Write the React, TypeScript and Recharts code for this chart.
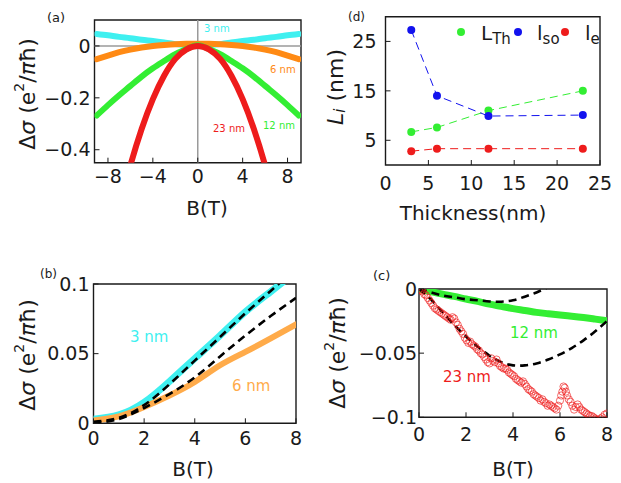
import {
  ComposedChart,
  Line,
  ReferenceArea,
  ReferenceLine,
  Scatter,
  XAxis,
  YAxis,
} from 'recharts'

const W = 621
const H = 483
const INK = '#1a1a1a'
const CYAN = '#3ff0f0'
const ORANGE = '#ff8a14'
const ORANGE_LIGHT = '#ffab4a'
const GREEN = '#33ee33'
const RED = '#ee1c1c'
const BLUE = '#1212ee'

// ---- (a) magnetoconductance, all thicknesses, B from -9 to 9 T
const bA = [-9, -8, -7, -6, -5, -4, -3, -2, -1, 0, 1, 2, 3, 4, 5, 6, 7, 8, 9]
const a3nm = [0.046, 0.041, 0.035, 0.03, 0.024, 0.019, 0.013, 0.007, 0.004, 0.003, 0.004, 0.007, 0.013, 0.019, 0.024, 0.03, 0.035, 0.041, 0.046]
const a6nm = [-0.051, -0.037, -0.024, -0.014, -0.006, 0, 0.004, 0.007, 0.008, 0.008, 0.008, 0.007, 0.004, 0, -0.006, -0.014, -0.024, -0.037, -0.051]
const a12nm = [-0.268, -0.228, -0.19, -0.154, -0.118, -0.086, -0.058, -0.032, -0.012, 0.003, -0.012, -0.032, -0.058, -0.086, -0.118, -0.154, -0.19, -0.228, -0.268]
const bA23 = [-7, -6, -5, -4, -3, -2, -1, 0, 1, 2, 3, 4, 5, 6, 7]
const a23nm = [-0.62, -0.46, -0.32, -0.205, -0.115, -0.05, -0.013, 0, -0.013, -0.05, -0.115, -0.205, -0.32, -0.46, -0.62]

// ---- (b) 3 nm and 6 nm with fits
const bB = [0, 1, 2, 3, 4, 5, 6, 7, 8]
const b3nm = [0.003, 0.006, 0.015, 0.03, 0.0465, 0.063, 0.08, 0.0945, 0.109]
const b3fit = [0.001, 0.004, 0.013, 0.028, 0.045, 0.062, 0.079, 0.095, 0.111]
const b6nm = [0.002, 0.005, 0.0117, 0.02, 0.0297, 0.0417, 0.0513, 0.061, 0.071]
const b6fit = [0, 0.003, 0.011, 0.021, 0.033, 0.048, 0.063, 0.077, 0.09]

// ---- (c) 12 nm and 23 nm with fits
const bC = [0, 0.5, 1, 1.5, 2, 2.5, 3, 3.5, 4, 4.5, 5, 5.5, 6, 6.5, 7, 7.5, 8]
const c12nm = [0, -0.002, -0.004, -0.0058, -0.0078, -0.0097, -0.0118, -0.0135, -0.0153, -0.0167, -0.0182, -0.0193, -0.0203, -0.0212, -0.0222, -0.0235, -0.0248]
const bC12fit = [0, 0.5, 1, 1.5, 2, 2.5, 3, 3.5, 4, 4.5, 5, 5.5, 6]
const c12fit = [0, -0.0025, -0.005, -0.0065, -0.008, -0.0088, -0.0097, -0.0099, -0.0088, -0.006, -0.0027, 0.0015, 0.006]
const c23fit = [0, -0.008, -0.018, -0.028, -0.037, -0.045, -0.052, -0.057, -0.0595, -0.0595, -0.058, -0.055, -0.051, -0.046, -0.04, -0.033, -0.025]
const bC23 = [0, 0.15, 0.3, 0.45, 0.6, 0.75, 0.9, 1.05, 1.2, 1.35, 1.5, 1.65, 1.8, 1.95, 2.1, 2.25, 2.4, 2.55, 2.7, 2.85, 3, 3.15, 3.3, 3.45, 3.6, 3.75, 3.9, 4.05, 4.2, 4.35, 4.5, 4.65, 4.8, 4.95, 5.1, 5.25, 5.4, 5.55, 5.7, 5.85, 6, 6.1, 6.2, 6.3, 6.45, 6.6, 6.75, 6.9, 7.05, 7.2, 7.35, 7.5, 7.65, 7.8, 8]
const c23nm = [0, -0.002, -0.005, -0.009, -0.013, -0.016, -0.018, -0.02, -0.022, -0.024, -0.023, -0.028, -0.033, -0.038, -0.042, -0.043, -0.045, -0.048, -0.051, -0.055, -0.058, -0.056, -0.055, -0.06, -0.062, -0.063, -0.066, -0.068, -0.071, -0.073, -0.074, -0.078, -0.08, -0.083, -0.085, -0.086, -0.089, -0.09, -0.092, -0.094, -0.087, -0.08, -0.077, -0.083, -0.088, -0.094, -0.09, -0.094, -0.096, -0.098, -0.099, -0.101, -0.103, -0.1, -0.097]
const bC23b = [0.075, 0.225, 0.375, 0.525, 0.675, 0.825, 0.975, 1.125, 1.275, 1.425, 1.575, 1.725, 1.875, 2.025, 2.175, 2.325, 2.475, 2.625, 2.775, 2.925, 3.075, 3.225, 3.375, 3.525, 3.675, 3.825, 3.975, 4.125, 4.275, 4.425, 4.575, 4.725, 4.875, 5.025, 5.175, 5.325, 5.475, 5.625, 5.775, 5.925, 6.05, 6.15, 6.25, 6.375, 6.525, 6.675, 6.825, 6.975, 7.125, 7.275, 7.425, 7.575, 7.725, 7.9]
const c23nmB = [-0.001, -0.004, -0.007, -0.011, -0.015, -0.017, -0.019, -0.021, -0.023, -0.022, -0.026, -0.031, -0.035, -0.04, -0.041, -0.044, -0.047, -0.05, -0.053, -0.057, -0.054, -0.057, -0.058, -0.061, -0.062, -0.065, -0.067, -0.07, -0.072, -0.072, -0.076, -0.079, -0.082, -0.084, -0.087, -0.088, -0.091, -0.091, -0.093, -0.091, -0.083, -0.076, -0.08, -0.086, -0.091, -0.092, -0.092, -0.095, -0.097, -0.099, -0.1, -0.102, -0.101, -0.098]

// ---- (d) length scales vs thickness
const thickness = [3, 6, 12, 23]
const lTh = [6.7, 7.6, 11.0, 15.0]
const lSo = [27.3, 14.0, 9.9, 10.1]
const lE = [2.8, 3.3, 3.3, 3.3]

const rows = (xs: number[], ys: number[]) => xs.map((b, i) => ({ b, v: ys[i] }))
const fmt = (v: number) => (v < 0 ? `\u2212${-v}` : `${v}`)

const tickFont = { fill: INK, fontSize: 19 }

function xAxisProps(domain: number[], ticks: number[], margin: number) {
  return {
    type: 'number' as const,
    dataKey: 'b',
    domain,
    ticks,
    interval: 0,
    allowDataOverflow: true,
    tickFormatter: fmt,
    tick: tickFont,
    tickSize: -5,
    tickMargin: margin,
    axisLine: false,
    tickLine: { stroke: INK },
    height: 30,
  }
}

function yAxisProps(domain: number[], ticks: number[], margin: number) {
  return {
    type: 'number' as const,
    dataKey: 'v',
    domain,
    ticks,
    interval: 0,
    allowDataOverflow: true,
    tickFormatter: fmt,
    tick: tickFont,
    tickSize: -5,
    tickMargin: margin,
    axisLine: false,
    tickLine: { stroke: INK },
    width: 40,
  }
}

function SigmaTitle({ x, y }: { x: number; y: number }) {
  return (
    <text transform={`translate(${x},${y}) rotate(-90)`} textAnchor="middle" dominantBaseline="central" fontSize={22} fill={INK}>
      Δ<tspan fontStyle="italic">σ</tspan> (e<tspan dy={-8} fontSize={14}>2</tspan><tspan dy={8}>/</tspan><tspan fontStyle="italic">π</tspan>ħ)
    </text>
  )
}

function Tag({ x, y, children, size = 20, color = INK }: { x: number; y: number; children: any; size?: number; color?: string }) {
  return (
    <text x={x} y={y} fontSize={size} fill={color}>
      {children}
    </text>
  )
}

function Frame({ x, y }: { x: number[]; y: number[] }) {
  return <ReferenceArea x1={x[0]} x2={x[1]} y1={y[0]} y2={y[1]} fill="none" stroke={INK} strokeWidth={1.4} strokeOpacity={1} ifOverflow="visible" />
}

const thick = (color: string, w = 6) => ({
  type: 'natural' as const,
  dataKey: 'v',
  stroke: color,
  strokeWidth: w,
  strokeLinecap: 'round' as const,
  dot: false,
  isAnimationActive: false,
})

const fitLine = {
  type: 'natural' as const,
  dataKey: 'v',
  stroke: '#000',
  strokeWidth: 2.6,
  strokeDasharray: '8 5',
  dot: false,
  isAnimationActive: false,
}

function OpenCircle(props: any) {
  return <circle cx={props.cx} cy={props.cy} r={3.6} fill="none" stroke={RED} strokeOpacity={0.65} strokeWidth={1} />
}

function PanelA() {
  const xd = [-9.2, 9.2]
  const yd = [-0.45, 0.1]
  return (
    <ComposedChart width={W} height={H} margin={{ top: 20, left: 54.5, right: 320, bottom: 290.3 }}>
      <XAxis {...xAxisProps(xd, [-8, -4, 0, 4, 8], 12)} />
      <YAxis {...yAxisProps(yd, [-0.4, -0.2, 0], 9)} />
      <ReferenceLine x={0} stroke="#9a9a9a" strokeWidth={1.5} />
      <ReferenceLine y={0} stroke="#9a9a9a" strokeWidth={1.5} />
      <Line data={rows(bA, a3nm)} {...thick(CYAN)} />
      <Line data={rows(bA, a6nm)} {...thick(ORANGE)} />
      <Line data={rows(bA, a12nm)} {...thick(GREEN)} />
      <Line data={rows(bA23, a23nm)} {...thick(RED)} />
      <Frame x={xd} y={yd} />
      <Tag x={47} y={22} size={13}>(a)</Tag>
      <Tag x={204} y={32} size={10} color={CYAN}>3 nm</Tag>
      <Tag x={270} y={73} size={10} color={ORANGE}>6 nm</Tag>
      <Tag x={263} y={129} size={10} color={GREEN}>12 nm</Tag>
      <Tag x={213} y={132} size={10} color={RED}>23 nm</Tag>
      <text x={207} y={215} textAnchor="middle" fontSize={20} fill={INK}>B(T)</text>
      <SigmaTitle x={27} y={94} />
    </ComposedChart>
  )
}

function PanelB() {
  const xd = [0, 8]
  const yd = [0, 0.1]
  return (
    <ComposedChart width={W} height={H} margin={{ top: 284, left: 53.5, right: 325, bottom: 29.7 }}>
      <XAxis {...xAxisProps(xd, [0, 2, 4, 6, 8], 13.7)} />
      <YAxis {...yAxisProps(yd, [0, 0.05, 0.1], 9)} />
      <Line data={rows(bB, b3nm)} {...thick(CYAN, 7)} />
      <Line data={rows(bB, b6nm)} {...thick(ORANGE_LIGHT, 6)} />
      <Line data={rows(bB, b3fit)} {...fitLine} />
      <Line data={rows(bB, b6fit)} {...fitLine} />
      <Frame x={xd} y={yd} />
      <Tag x={40} y={278} size={12}>(b)</Tag>
      <Tag x={130} y={342} size={15} color={CYAN}>3 nm</Tag>
      <Tag x={232} y={391} size={15} color={ORANGE_LIGHT}>6 nm</Tag>
      <text x={193} y={476} textAnchor="middle" fontSize={20} fill={INK}>B(T)</text>
      <SigmaTitle x={27} y={355} />
    </ComposedChart>
  )
}

function PanelC() {
  const xd = [0, 8]
  const yd = [-0.1, 0]
  const red = [...rows(bC23, c23nm), ...rows(bC23b, c23nmB)]
  return (
    <ComposedChart width={W} height={H} margin={{ top: 289, left: 379, right: 14, bottom: 35.7 }}>
      <XAxis {...xAxisProps(xd, [0, 2, 4, 6, 8], 15.7)} />
      <YAxis {...yAxisProps(yd, [-0.1, -0.05, 0], 7)} />
      <Scatter data={red} dataKey="v" shape={OpenCircle} isAnimationActive={false} />
      <Line data={rows(bC, c12nm)} {...thick(GREEN, 7)} />
      <Line data={rows(bC12fit, c12fit)} {...fitLine} />
      <Line data={rows(bC, c23fit)} {...fitLine} />
      <Frame x={xd} y={yd} />
      <Tag x={373} y={280} size={13}>(c)</Tag>
      <Tag x={510} y={338} size={15} color={GREEN}>12 nm</Tag>
      <Tag x={443} y={382} size={15} color={RED}>23 nm</Tag>
      <text x={513} y={476} textAnchor="middle" fontSize={20} fill={INK}>B(T)</text>
      <SigmaTitle x={337} y={353} />
    </ComposedChart>
  )
}

const dashed = (color: string) => ({
  type: 'linear' as const,
  dataKey: 'v',
  stroke: color,
  strokeWidth: 1,
  strokeDasharray: '8 5',
  dot: { r: 4, fill: color, stroke: 'none', strokeDasharray: '0' },
  isAnimationActive: false,
})

function PanelD() {
  const xd = [0, 25]
  const yd = [0, 30]
  return (
    <ComposedChart width={W} height={H} margin={{ top: 16.7, left: 345.5, right: 21, bottom: 288 }}>
      <XAxis {...xAxisProps(xd, [0, 5, 10, 15, 20, 25], 17)} />
      <YAxis {...yAxisProps(yd, [5, 15, 25], 14)} />
      <Line data={rows(thickness, lTh)} {...dashed(GREEN)} />
      <Line data={rows(thickness, lSo)} {...dashed(BLUE)} />
      <Line data={rows(thickness, lE)} {...dashed(RED)} />
      <Frame x={xd} y={yd} />
      <Tag x={348} y={21} size={12}>(d)</Tag>
      <circle cx={461} cy={32} r={4} fill={GREEN} />
      <text x={481} y={40} fontSize={20} fill={INK}>L<tspan dy={4} fontSize={15}>Th</tspan></text>
      <circle cx={518} cy={32} r={4} fill={BLUE} />
      <text x={537} y={40} fontSize={20} fill={INK}>l<tspan dy={4} fontSize={15}>so</tspan></text>
      <circle cx={565} cy={32} r={4} fill={RED} />
      <text x={585} y={40} fontSize={20} fill={INK}>l<tspan dy={4} fontSize={15}>e</tspan></text>
      <text x={473} y={220} textAnchor="middle" fontSize={20} fill={INK}>Thickness(nm)</text>
      <text transform="translate(335,87) rotate(-90)" textAnchor="middle" dominantBaseline="central" fontSize={22} fill={INK}>
        <tspan fontStyle="italic">L</tspan><tspan fontStyle="italic" dy={5} fontSize={15}>i</tspan><tspan dy={-5}> (nm)</tspan>
      </text>
    </ComposedChart>
  )
}

const layer = { position: 'absolute' as const, left: 0, top: 0 }

export default function App() {
  return (
    <div style={{ position: 'absolute', left: 0, top: 0, width: W, height: H, background: '#fff', fontFamily: '"DejaVu Sans", sans-serif' }}>
      <div style={layer}><PanelA /></div>
      <div style={layer}><PanelB /></div>
      <div style={layer}><PanelC /></div>
      <div style={layer}><PanelD /></div>
    </div>
  )
}
